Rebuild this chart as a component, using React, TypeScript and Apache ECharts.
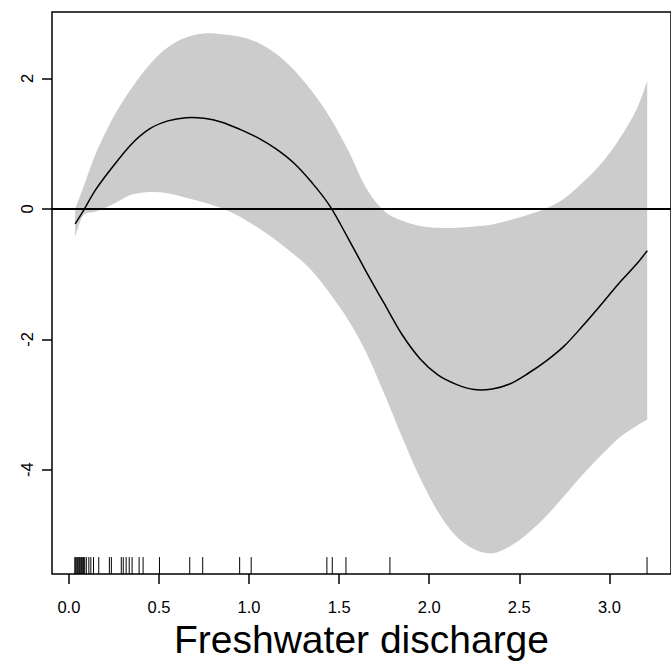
import React, { useEffect, useRef } from "react";
import * as echarts from "echarts";

// Smooth term: x grid, fitted values and confidence band
const xGrid = [0.035, 0.08, 0.15, 0.25, 0.35, 0.45, 0.55, 0.65, 0.75, 0.85, 0.95, 1.05, 1.15, 1.25, 1.35, 1.45, 1.55, 1.65, 1.75, 1.85, 1.95, 2.05, 2.15, 2.25, 2.35, 2.45, 2.55, 2.65, 2.75, 2.85, 2.95, 3.05, 3.15, 3.21];
const fitValues = [-0.23, -0.03, 0.3, 0.67, 1.0, 1.23, 1.35, 1.4, 1.39, 1.33, 1.22, 1.09, 0.92, 0.7, 0.4, 0.04, -0.45, -0.96, -1.45, -1.93, -2.3, -2.55, -2.69, -2.77, -2.76, -2.68, -2.52, -2.33, -2.1, -1.8, -1.48, -1.15, -0.85, -0.64];
const upperBand = [0.0, 0.33, 0.85, 1.42, 1.86, 2.22, 2.48, 2.63, 2.69, 2.68, 2.64, 2.55, 2.38, 2.13, 1.8, 1.4, 0.9, 0.32, -0.03, -0.18, -0.26, -0.29, -0.29, -0.27, -0.24, -0.17, -0.09, 0.01, 0.16, 0.4, 0.68, 1.05, 1.52, 1.96];
const lowerBand = [-0.43, -0.1, -0.04, 0.08, 0.22, 0.26, 0.24, 0.17, 0.1, 0.01, -0.12, -0.29, -0.48, -0.7, -0.95, -1.3, -1.7, -2.2, -2.83, -3.5, -4.13, -4.65, -5.02, -5.22, -5.28, -5.17, -4.97, -4.71, -4.4, -4.08, -3.79, -3.52, -3.33, -3.23];

// Observed covariate values (rug)
const rugValues = [0.033, 0.038, 0.044, 0.049, 0.055, 0.06, 0.066, 0.071, 0.077, 0.082, 0.088, 0.097, 0.111, 0.122, 0.137, 0.166, 0.225, 0.236, 0.291, 0.302, 0.318, 0.335, 0.351, 0.39, 0.412, 0.503, 0.671, 0.743, 0.948, 1.012, 1.432, 1.462, 1.538, 1.782, 3.209];

const xTicks = [0, 0.5, 1, 1.5, 2, 2.5, 3];
const yTicks = [-4, -2, 0, 2];
const xTitle = "Freshwater discharge";

const X_MIN = -0.0935;
const X_MAX = 3.342;
const Y_MIN = -5.6;
const Y_MAX = 3.02;

const FONT = "'Liberation Sans', Arial, Helvetica, sans-serif";

// Catmull-Rom spline through pixel points -> SVG cubic segments (rendering only)
function splineSegments(pts: number[][]): string {
  let d = "";
  for (let i = 0; i < pts.length - 1; i++) {
    const p0 = pts[i === 0 ? 0 : i - 1];
    const p1 = pts[i];
    const p2 = pts[i + 1];
    const p3 = pts[i + 2 < pts.length ? i + 2 : pts.length - 1];
    const c1x = p1[0] + (p2[0] - p0[0]) / 6;
    const c1y = p1[1] + (p2[1] - p0[1]) / 6;
    const c2x = p2[0] - (p3[0] - p1[0]) / 6;
    const c2y = p2[1] - (p3[1] - p1[1]) / 6;
    d += ` C${c1x},${c1y} ${c2x},${c2y} ${p2[0]},${p2[1]}`;
  }
  return d;
}

export default function App() {
  const ref = useRef<HTMLDivElement>(null);
  useEffect(() => {
    if (!ref.current) return;
    const chart = echarts.init(ref.current, undefined, { renderer: "svg" });
    const bandData = xGrid.map((x, i) => [x, lowerBand[i], upperBand[i]]);
    const fitData = xGrid.map((x, i) => [x, fitValues[i]]);
    chart.setOption({
      animation: false,
      backgroundColor: "#ffffff",
      grid: {
        left: 52,
        top: 12,
        right: -6,
        bottom: 87,
        show: true,
        borderColor: "#000",
        borderWidth: 1.5,
        backgroundColor: "transparent",
      },
      xAxis: {
        type: "value",
        min: X_MIN,
        max: X_MAX,
        name: xTitle,
        nameLocation: "middle",
        nameGap: 41,
        nameTextStyle: { fontFamily: FONT, fontSize: 39, color: "#000" },
        axisLine: { show: false, onZero: false },
        splitLine: { show: false },
        axisTick: {
          show: true,
          inside: false,
          length: 10,
          customValues: xTicks,
          lineStyle: { color: "#000", width: 1.5 },
        },
        axisLabel: {
          customValues: xTicks,
          margin: 24,
          fontFamily: FONT,
          fontSize: 16.5,
          color: "#000",
          formatter: (v: number) => v.toFixed(1),
        },
      },
      yAxis: {
        type: "value",
        min: Y_MIN,
        max: Y_MAX,
        axisLine: { show: false, onZero: false },
        splitLine: { show: false },
        axisTick: {
          show: true,
          inside: false,
          length: 10,
          customValues: yTicks,
          lineStyle: { color: "#000", width: 1.5 },
        },
        axisLabel: {
          customValues: yTicks,
          rotate: 90,
          margin: 17,
          fontFamily: FONT,
          fontSize: 16.5,
          color: "#000",
          formatter: (v: number) => String(v),
        },
      },
      series: [
        {
          type: "custom",
          data: bandData,
          silent: true,
          clip: true,
          z: 1,
          encode: { x: 0, y: [1, 2] },
          renderItem: (params: any, api: any) => {
            if (params.dataIndex !== 0) return null;
            const upper = bandData.map((d) => api.coord([d[0], d[2]]));
            const lower = bandData.map((d) => api.coord([d[0], d[1]])).reverse();
            const pathData =
              `M${upper[0][0]},${upper[0][1]}` +
              splineSegments(upper) +
              ` L${lower[0][0]},${lower[0][1]}` +
              splineSegments(lower) +
              " Z";
            return {
              type: "path",
              shape: { pathData },
              style: { fill: "#cccccc", stroke: "none" },
            };
          },
        },
        {
          type: "line",
          data: [[X_MIN - 1, 0], [X_MAX + 1, 0]],
          symbol: "none",
          lineStyle: { color: "#000", width: 2 },
          silent: true,
          z: 3,
        },
        {
          type: "custom",
          data: fitData,
          silent: true,
          clip: true,
          z: 4,
          renderItem: (params: any, api: any) => {
            if (params.dataIndex !== 0) return null;
            const pts = fitData.map((d) => api.coord(d));
            return {
              type: "path",
              shape: { pathData: `M${pts[0][0]},${pts[0][1]}` + splineSegments(pts) },
              style: { fill: "none", stroke: "#000", lineWidth: 1.5 },
            };
          },
        },
        {
          type: "custom",
          data: rugValues.map((v) => [v]),
          silent: true,
          z: 5,
          renderItem: (_params: any, api: any) => {
            const p = api.coord([api.value(0), Y_MIN]);
            return {
              type: "line",
              shape: { x1: p[0], y1: p[1], x2: p[0], y2: p[1] - 17 },
              style: { stroke: "#000", lineWidth: 1 },
            };
          },
        },
      ],
    });
    return () => chart.dispose();
  }, []);
  return (
    <div
      ref={ref}
      style={{ position: "fixed", left: 0, top: 0, width: 671, height: 664, background: "#fff" }}
    />
  );
}
